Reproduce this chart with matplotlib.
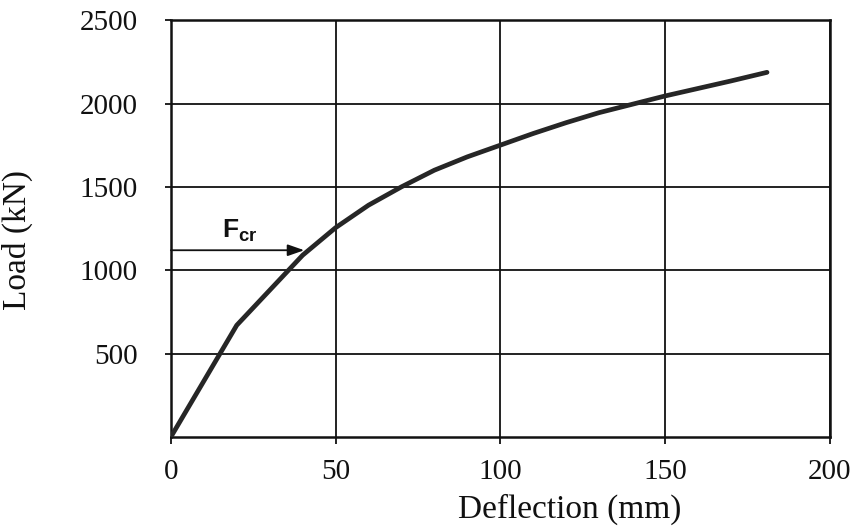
import matplotlib

matplotlib.use("Agg")
import matplotlib.pyplot as plt

# load-deflection curve (mm, kN)
deflection = [0, 20, 30, 40, 50, 60, 70, 80, 90, 100, 110, 120, 130, 140, 150, 160, 170, 181]
load = [0, 670, 880, 1090, 1255, 1390, 1500, 1600, 1680, 1750, 1820, 1885, 1945, 1995, 2045, 2090, 2135, 2187]

x_ticks = [0, 50, 100, 150, 200]
y_ticks = [500, 1000, 1500, 2000, 2500]

# cracking load marker
f_cr_load = 1120
f_cr_deflection = 40.5

plt.rcParams["mathtext.fontset"] = "custom"
plt.rcParams["mathtext.bf"] = "Liberation Sans:bold"
plt.rcParams["mathtext.rm"] = "Liberation Sans"

fig = plt.figure(figsize=(8.5, 5.3), dpi=100)
ax = fig.add_axes([0.201, 0.1755, 0.775, 0.7865])

ax.plot(deflection, load, color="#262626", linewidth=3.4, solid_capstyle="round",
        solid_joinstyle="round", zorder=3)

ax.annotate(
    "",
    xy=(f_cr_deflection, f_cr_load),
    xytext=(0, f_cr_load),
    arrowprops=dict(arrowstyle="-|>,head_length=1.0,head_width=0.35", color="#111111", lw=1.3,
                    shrinkA=0, shrinkB=0),
    zorder=4,
)
ax.text(15.5, f_cr_load + 40, r"$\mathbf{F_{cr}}$", fontsize=19, color="#111111", va="bottom")

ax.set_xlim(0, 200)
ax.set_ylim(0, 2500)
ax.set_xticks(x_ticks)
ax.set_yticks(y_ticks)
ax.grid(True, color="#111111", linewidth=1.3)
ax.set_axisbelow(True)

for spine in ax.spines.values():
    spine.set_linewidth(1.8)
    spine.set_color("#111111")

serif = ["Liberation Serif", "DejaVu Serif"]
ax.tick_params(axis="x", direction="out", length=5, width=1.3, pad=11, labelsize=21, colors="#111111")
ax.tick_params(axis="y", direction="out", length=4, width=1.3, pad=20, labelsize=21, colors="#111111")
for lbl in ax.get_xticklabels() + ax.get_yticklabels():
    lbl.set_fontfamily(serif)

ax.set_xlabel("Deflection (mm)", fontsize=24, family=serif, color="#111111")
ax.set_ylabel("Load (kN)", fontsize=24, family=serif, color="#111111")
ax.xaxis.set_label_coords(0.605, -0.135)
ax.yaxis.set_label_coords(-0.209, 0.472)

fig.savefig("out.png", dpi=100, facecolor="white")
plt.close(fig)
